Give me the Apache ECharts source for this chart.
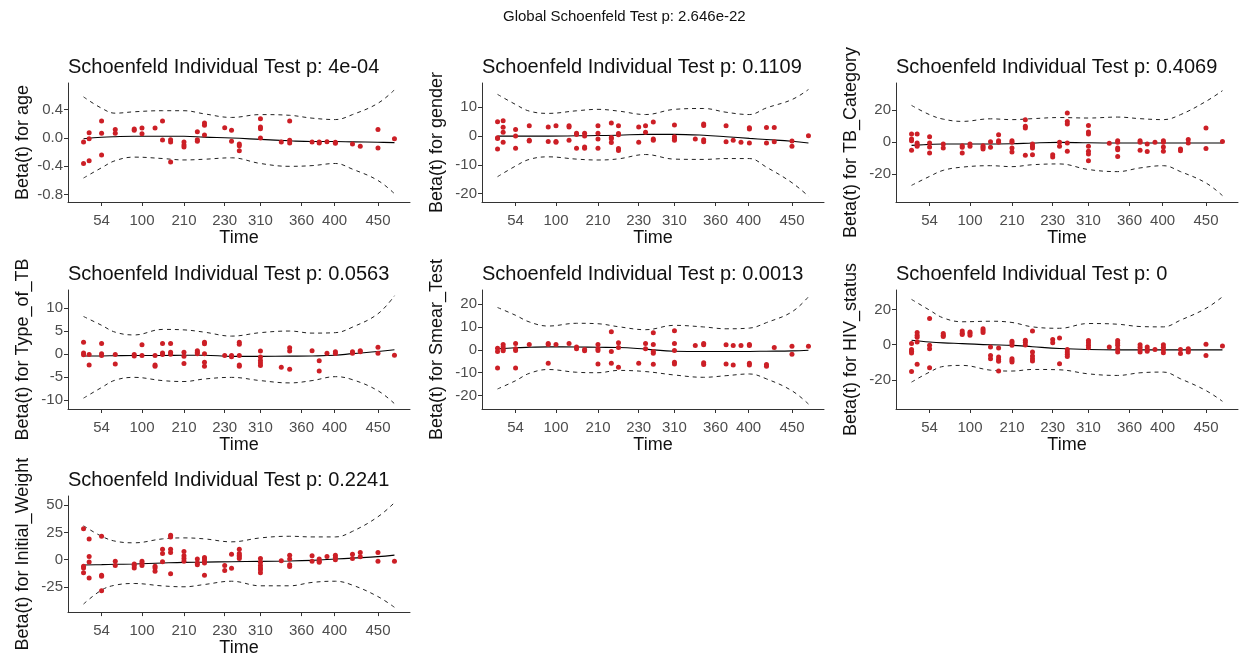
<!DOCTYPE html>
<html>
<head>
<meta charset="utf-8">
<script src="https://cdn.jsdelivr.net/npm/echarts@6/dist/echarts.min.js"></script>
<style>
html,body{margin:0;padding:0;background:#fff;}
#chart{width:1239px;height:658px;}
</style>
</head>
<body>
<div id="chart"></div>
<script>
// transformed event times (x positions of the residual columns)
const xCols = [0, 0.018, 0.058, 0.102, 0.163, 0.188, 0.230, 0.254, 0.280, 0.323, 0.366, 0.389, 0.454, 0.476, 0.501, 0.569, 0.636, 0.663, 0.735, 0.758, 0.783, 0.810, 0.865, 0.890, 0.947, 1.0];
const xTickPos = [0.058, 0.188, 0.323, 0.454, 0.569, 0.701, 0.8075, 0.947];
const xTickLabels = ['54', '100', '210', '230', '310', '360', '400', '450'];
const bandX = [0, 0.058, 0.102, 0.163, 0.254, 0.323, 0.389, 0.476, 0.569, 0.663, 0.735, 0.81, 0.865, 0.947, 1.0];

const globalTitle = 'Global Schoenfeld Test p: 2.646e-22';
const panelNames = ['age', 'gender', 'TB_Category', 'Type_of_TB', 'Smear_Test', 'HIV_status', 'Initial_Weight'];
const panelP = ['4e-04', '0.1109', '0.4069', '0.0563', '0.0013', '0', '0.2241'];
const yTicks = [[-0.8, -0.4, 0, 0.4], [-20, -10, 0, 10], [-20, 0, 20], [-10, -5, 0, 5, 10], [-20, -10, 0, 10, 20], [-20, 0, 20], [-25, 0, 25, 50]];
const yRange = [[-0.9035, 0.776], [-22.9, 18.46], [-37.3, 37.1], [-11.96, 13.85], [-25.86, 26.15], [-36.57, 31.05], [-48.0, 58.4]];

// residuals, one inner array per column of xCols
const resAge = [[-0.056,-0.36],[0.075,-0.01,-0.32],[0.24,0.066,-0.24],[0.118,0.066],[0.127,0.108],[0.141,0.061],[0.141],[0.24,-0.028],[-0.024,-0.056,-0.34],[-0.056,-0.099,-0.127],[0.089,-0.024,-0.047],[0.21,0.18,0.042],[0.146],[0.108,-0.047],[-0.085,-0.108,-0.18],[0.27,0.155,0.13,0.0],[-0.056],[0.24,-0.033,-0.07],[-0.056],[-0.056,-0.07],[-0.052],[-0.061,-0.075],[-0.085],[-0.118],[0.118,-0.141],[-0.01]];
const resGender = [[5.0,-0.6,-0.8,-4.5],[5.3,3.1,1.3,-2.1],[2.3,0,-4.2],[3.6,-1.4,-1.7],[3.2,-1.9],[3.6,-1.9,-2.1],[3.6,3.2,-1.4],[1.0,0.6,-4.2],[1.0,0,-3.8,-4.2],[3.6,1.0,-1.0,-4.2],[4.6,-0.5,-0.9,-2.2],[3.6,0.9,0.5,-4.3,-5.0],[3.2,-2.1],[3.6,1.3],[4.9,-1.0,-1.4],[3.9,-0.2,-0.8,-1.4],[-1.0],[4.2,3.7,-1.3,-2.0],[3.6,-2.0],[-1.4],[-2.1],[2.9,2.5,-2.4],[3.0,-2.4],[3.0,-2.0],[-1.7,-3.5],[0.1]];
const resTBCat = [[5.2,2.1,1.0,-5.0],[5.2,-0.4,-1.5,-2.5],[3.5,-0.4,-2.9,-6.7],[-1.0,-3.5],[-2.1,-3.1,-6.7],[-1.0,-2.5],[-2.1,-3.1,-4.2],[0.4,-3.1],[4.8,1.0,0],[1.0,0,-3.5,-6.0],[14.2,10.0,9.0,-8.1],[-1.0,-2.5,-3.5,-7.7],[-7.7,-9.2],[0,-2.5],[18.3,13.1,11.5,-0.4,-5.6],[10.6,6.5,5.2,-2.5,-5.6,-7.3,-11.5],[-0.6],[1.0,0,-3.5,-4.6,-8.8],[1.0,0,-5.0],[-1.0,-5.8],[0],[1.0,0,-2.9,-5.6],[-4.2,-5.2],[1.7,-0.4],[9.0,-3.8],[0.6]];
const resTypeTB = [[2.5,0.2,-0.2],[-0.15,-2.4],[2.25,0,-0.35],[-0.15,-2.2],[-0.15,-0.45],[2.0,-0.35],[-0.35,-2.4,-2.7],[2.25,0.2,-0.15],[2.25,0.35,-0.1],[0.35,-0.5,-2.1],[0.7,0.35,0],[2.5,2.2,0,-1.8,-2.7],[-0.35],[-0.35,-0.65],[2.5,2.1,-0.35,-2.4,-2.7],[0.6,-0.7,-1.45,-2.0,-2.5],[-2.9],[1.3,0.6,-3.35],[0.65],[-1.5,-3.7],[0.15],[0.45,0.1],[0.45,0.15],[0.65,0.45],[1.45,0.15],[-0.3]];
const resSmear = [[0.7,-0.7,-7.9],[2.3,1.2,0.15,-0.45],[2.8,0.45,-0.3,-7.9],[2.3],[2.8,2.3,-5.9],[2.3],[2.8],[1.2,0.45],[0.15,-0.45],[2.3,0.45,-0.3,-6.15],[7.9,-0.7,-5.9],[3.1,1.0,-7.6],[-5.9],[2.8,0.45],[7.5,2.3,-0.7,-1.5,-6.3],[8.35,2.8,-0.3,-5.4,-6.15],[1.9],[2.8,2.2,-5.7,-6.45],[2.2,-6.15],[1.9,-6.6],[1.9],[2.3,1.9,-5.9,-6.6],[-6.45,-7.2],[1.0],[1.6,-1.9],[1.6]];
const resHIV = [[0.6,-2.7,-3.8,-4.8,-15.2],[6.9,5.3,4.2,1.5,-11.2],[14.9,-0.4,-2.3,-13.1],[6.3,5.3,4.6],[7.8,6.5,5.7],[7.2,6.5,5.3],[9.0,8.0,6.9],[-1.3,-6.1,-8.0],[-1.9,-7.0,-8.4,-9.5,-15.0],[1.9,1.0,-0.4,-8.0,-9.0,-9.9],[2.5,1.3,-0.2],[7.8,-4.2,-6.5,-8.0,-9.3],[2.9,1.1],[3.8,-10.9],[-2.7,-4.2,-5.5,-6.7],[2.3,1.1,-0.4,-1.7],[-1.3],[2.3,1.0,-0.4,-2.3,-4.2],[0,-1.5,-2.9,-4.2],[-1.3,-2.7,-3.8],[-2.7],[0,-1.5,-2.9,-4.6],[-2.7,-5.1],[-2.3,-3.2,-4.2],[0.2,-6.1],[-0.8]];
const resWeight = [[28.4,-6.0,-7.5,-12.0],[19.1,3.0,-2.1,-16.7],[21.5,-14.3,-15.2,-28.4],[-1.5,-5.4],[-3.9,-5.4,-7.5],[-1.5,-3.3,-5.4],[-6.0,-7.5,-10.5],[9.6,5.7,-1.8],[22.4,20.9,9.6,6.6,-12.8],[7.5,3.6,1.2,-1.5],[0.6,-3.0,-4.5],[2.1,0.6,-1.5,-3.0,-14.3],[-5.4,-9.9],[5.1,-7.8],[9.6,5.7,4.2,2.7,1.2],[1.2,-2.4,-5.4,-7.5,-9.3,-12.0],[-0.9],[4.2,0.6,-4.5,-6.3],[3.6,-1.5],[0.6,-1.5,-2.4],[3.0],[4.2,2.1,0],[5.1,1.2],[6.6,2.7],[6.6,-1.5],[-1.5]];

// fitted beta(t) and its +/- 2 se bands at bandX
const fitAge = [-0.01,0.01,0.018,0.024,0.024,0.024,0.012,0.0,-0.02,-0.04,-0.05,-0.05,-0.055,-0.06,-0.066];
const upAge = [0.58,0.42,0.35,0.37,0.385,0.385,0.34,0.29,0.33,0.32,0.28,0.26,0.33,0.49,0.68];
const loAge = [-0.565,-0.42,-0.32,-0.27,-0.29,-0.31,-0.30,-0.28,-0.36,-0.40,-0.39,-0.36,-0.44,-0.60,-0.786];
const fitGender = [0,0,0,0,0.1,0.2,0.3,0.6,0.6,0.3,-0.2,-0.8,-1.2,-1.8,-2.4];
const upGender = [14.5,11.0,8.7,7.9,8.8,9.3,8.7,7.5,9.3,9.6,8.3,7.5,9.8,12.7,16.2];
const loGender = [-14.1,-10.4,-8.1,-7.2,-8.0,-8.3,-7.9,-6.4,-8.0,-8.1,-7.8,-7.8,-10.8,-16.2,-20.9];
const fitTBCat = [-1.9,-1.3,-1.0,-1.0,-1.0,-0.9,-0.4,0,-0.3,-0.4,-0.4,-0.4,-0.4,-0.4,-0.4];
const upTBCat = [23.1,17.3,14.5,13.1,14.7,14.2,14.8,15.5,15.2,15.8,14.8,14.2,17.3,25.6,32.3];
const loTBCat = [-26.9,-21.3,-17.5,-15.5,-14.6,-15.2,-14.0,-13.5,-17.0,-18.3,-16.0,-14.6,-18.3,-25.4,-33.3];
const fitTypeTB = [-0.45,-0.45,-0.4,-0.35,-0.35,-0.3,-0.3,-0.55,-0.55,-0.5,-0.45,-0.3,0.05,0.5,0.9];
const upTypeTB = [8.1,6.2,4.7,4.1,5.3,5.2,4.7,3.85,4.6,4.95,4.5,4.6,5.8,8.7,12.6];
const loTypeTB = [-9.6,-7.3,-5.7,-5.1,-5.8,-6.0,-5.45,-5.1,-5.8,-6.3,-5.8,-4.95,-5.6,-8.0,-10.8];
const fitSmear = [0.45,0.9,1.1,1.3,1.25,1.1,1.0,0.3,-0.6,-0.7,-0.7,-0.7,-0.6,-0.45,-0.15];
const upSmear = [18.5,15.1,12.2,10.4,11.6,11.4,10.1,8.8,10.7,10.0,9.2,9.5,11.9,16.6,23.2];
const loSmear = [-17.1,-13.5,-10.3,-8.6,-9.8,-10.0,-9.0,-9.5,-11.0,-12.0,-11.3,-10.55,-12.7,-17.9,-23.7];
const fitHIV = [2.5,1.5,1.0,0.6,-0.1,-0.4,-1.2,-2.2,-2.8,-3.0,-3.0,-3.0,-3.0,-3.0,-3.0];
const upHIV = [25.7,19.6,15.2,13.0,13.3,12.6,10.1,9.3,12.0,11.6,10.3,10.1,13.9,20.6,27.2];
const loHIV = [-21.3,-15.6,-12.4,-11.8,-14.5,-15.0,-14.1,-14.3,-16.6,-17.5,-16.0,-15.6,-19.4,-26.1,-32.2];
const fitWeight = [-4.8,-4.5,-4.2,-3.9,-3.0,-2.4,-2.2,-1.8,-1.5,-1.2,-0.6,0.6,1.5,2.8,4.2];
const upWeight = [31.1,21.5,17.0,15.5,19.1,20.0,19.1,16.4,20.0,21.5,20.9,20.9,26.0,39.4,52.3];
const loWeight = [-40.6,-27.8,-23.3,-21.8,-24.0,-24.8,-22.7,-19.7,-23.9,-23.9,-20.8,-19.7,-23.3,-33.8,-43.6];

const residuals = [resAge, resGender, resTBCat, resTypeTB, resSmear, resHIV, resWeight];
const fits = [fitAge, fitGender, fitTBCat, fitTypeTB, fitSmear, fitHIV, fitWeight];
const uppers = [upAge, upGender, upTBCat, upTypeTB, upSmear, upHIV, upWeight];
const lowers = [loAge, loGender, loTBCat, loTypeTB, loSmear, loHIV, loWeight];

const FONT = '"Liberation Sans", Arial, sans-serif';
const colLeft = [68, 482, 896];
const rowTop = [83, 290, 496];
const GW = 342, GH = 119;

const chart = echarts.init(document.getElementById('chart'), null, {renderer: 'canvas'});
const grids = [], xAxes = [], yAxes = [], series = [], titles = [];

titles.push({
  text: globalTitle, left: 503, top: 9, padding: 0,
  textStyle: {fontFamily: FONT, fontSize: 15, fontWeight: 'normal', color: '#111'}
});

for (let i = 0; i < 7; i++) {
  const r = Math.floor(i / 3), c = i % 3;
  const left = colLeft[c], top = rowTop[r];
  grids.push({left: left, top: top, width: GW, height: GH, containLabel: false});
  titles.push({
    text: 'Schoenfeld Individual Test p: ' + panelP[i],
    left: left, top: top - 26, padding: 0,
    textStyle: {fontFamily: FONT, fontSize: 20, fontWeight: 'normal', color: '#111'}
  });
  xAxes.push({
    type: 'value', gridIndex: i, min: -0.05, max: 1.05,
    name: 'Time', nameLocation: 'middle', nameGap: 26,
    nameTextStyle: {fontFamily: FONT, fontSize: 18, color: '#111'},
    splitLine: {show: false},
    axisLine: {show: true, onZero: false, lineStyle: {color: '#333', width: 1}},
    axisTick: {show: true, length: 4, lineStyle: {color: '#333'}, customValues: xTickPos},
    axisLabel: {
      fontFamily: FONT, fontSize: 15, color: '#4d4d4d', margin: 11,
      customValues: xTickPos,
      formatter: function (v) {
        let best = 0;
        for (let k = 0; k < xTickPos.length; k++) if (Math.abs(xTickPos[k] - v) < Math.abs(xTickPos[best] - v)) best = k;
        return xTickLabels[best];
      }
    }
  });
  const dec = i === 0 ? 1 : 0;
  yAxes.push({
    type: 'value', gridIndex: i, min: yRange[i][0], max: yRange[i][1],
    name: 'Beta(t) for ' + panelNames[i], nameLocation: 'middle', nameGap: 36,
    nameTextStyle: {fontFamily: FONT, fontSize: 18, color: '#111'},
    splitLine: {show: false},
    axisLine: {show: true, onZero: false, lineStyle: {color: '#333', width: 1}},
    axisTick: {show: true, length: 4, lineStyle: {color: '#333'}, customValues: yTicks[i]},
    axisLabel: {
      fontFamily: FONT, fontSize: 15, color: '#4d4d4d', margin: 5,
      customValues: yTicks[i],
      formatter: function (v) { return v.toFixed(dec); }
    }
  });
  const pts = [];
  residuals[i].forEach(function (col, k) { col.forEach(function (y) { pts.push([xCols[k], y]); }); });
  const mk = function (arr) { return bandX.map(function (x, k) { return [x, arr[k]]; }); };
  series.push({
    type: 'line', xAxisIndex: i, yAxisIndex: i, data: mk(uppers[i]), smooth: 0.4,
    showSymbol: false, silent: true, lineStyle: {color: '#222', width: 1, type: [4, 4]}, z: 2
  });
  series.push({
    type: 'line', xAxisIndex: i, yAxisIndex: i, data: mk(lowers[i]), smooth: 0.4,
    showSymbol: false, silent: true, lineStyle: {color: '#222', width: 1, type: [4, 4]}, z: 2
  });
  series.push({
    type: 'line', xAxisIndex: i, yAxisIndex: i, data: mk(fits[i]), smooth: 0.4,
    showSymbol: false, silent: true, lineStyle: {color: '#000', width: 1.1}, z: 2
  });
  series.push({
    type: 'scatter', xAxisIndex: i, yAxisIndex: i, data: pts, symbol: 'circle', symbolSize: 5,
    itemStyle: {color: '#cc1f26', opacity: 1}, silent: true, z: 3
  });
}

chart.setOption({
  animation: false,
  backgroundColor: '#ffffff',
  title: titles,
  grid: grids,
  xAxis: xAxes,
  yAxis: yAxes,
  series: series
});
</script>
</body>
</html>
